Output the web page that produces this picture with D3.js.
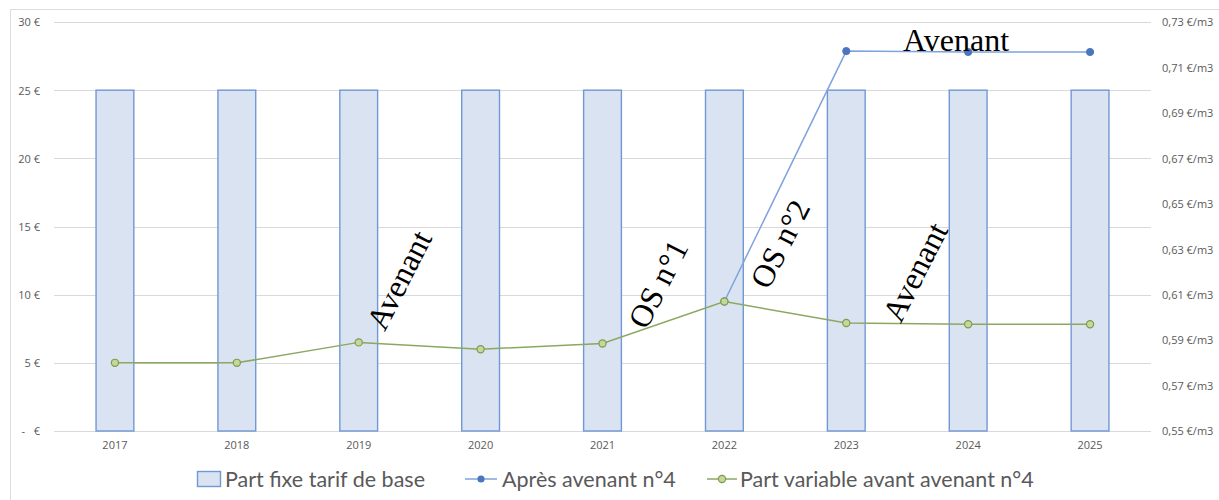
<!DOCTYPE html>
<html lang="fr">
<head>
<meta charset="utf-8">
<script src="https://cdn.jsdelivr.net/npm/d3@7"></script>
<style>
  html, body { margin: 0; padding: 0; background: #fff; }
  svg { display: block; }
  .tick-label { font-family: "Open Sans", "Liberation Sans", sans-serif; font-size: 11px; fill: #595959; }
  .legend-label { font-family: Lato, "Liberation Sans", sans-serif; font-size: 21.5px; fill: #595959; }
  .note { font-family: "Liberation Serif", "Times New Roman", serif; font-size: 32px; fill: #000; }
</style>
</head>
<body>
<svg id="chart" width="1219" height="500"></svg>
<script>
// Années
const years = ["2017", "2018", "2019", "2020", "2021", "2022", "2023", "2024", "2025"];
// Part fixe (€), axe de gauche
const partFixe = [25, 25, 25, 25, 25, 25, 25, 25, 25];
// Part variable avant avenant n°4 (€/m3), axe de droite
const partVariable = [0.580, 0.580, 0.589, 0.586, 0.5885, 0.607, 0.5975, 0.597, 0.597];
// Après avenant n°4 (€/m3), à partir de 2022
const apresAvenant = [null, null, null, null, null, 0.607, 0.7172, 0.7168, 0.7168];
// Graduations
const leftTicks = [0, 5, 10, 15, 20, 25, 30];
const rightTicks = [0.55, 0.57, 0.59, 0.61, 0.63, 0.65, 0.67, 0.69, 0.71, 0.73];
const legendLabels = ["Part fixe tarif de base", "Après avenant n°4", "Part variable avant avenant n°4"];

const svg = d3.select("#chart");

const x = d3.scaleBand().domain(years).range([54, 1151]).padding(0);
const yL = d3.scaleLinear().domain([0, 30]).range([431, 22]);
const yR = d3.scaleLinear().domain([0.55, 0.73]).range([431, 22]);

const blueLine = "#7fa3dd", blueDot = "#4a76c0";
const greenLine = "#8aa862", greenDot = "#7d9b4e", greenFill = "#c4d79c";

// Cadre du graphique
svg.append("path")
  .attr("d", "M10.5,500 V9.5 H1219")
  .attr("fill", "none").attr("stroke", "#dcdcdc").attr("stroke-width", 1);

// Quadrillage
svg.append("g").selectAll("line").data(leftTicks).join("line")
  .attr("x1", 54).attr("x2", 1151)
  .attr("y1", d => Math.round(yL(d)) + 0.5).attr("y2", d => Math.round(yL(d)) + 0.5)
  .attr("stroke", "#d9d9d9").attr("stroke-width", 1);

// Axe de gauche
const fmtEuro = d => d === 0 ? "-   €" : d + " €";
const gLeft = svg.append("g").attr("transform", "translate(54,0)")
  .call(d3.axisLeft(yL).tickValues(leftTicks).tickSize(0).tickPadding(14).tickFormat(fmtEuro));
gLeft.select(".domain").remove();
gLeft.selectAll("text").attr("class", "tick-label").attr("dy", "0.35em").style("white-space", "pre");

// Axe de droite
const fmtM3 = d => d3.format(".2f")(d).replace(".", ",") + " €/m3";
const gRight = svg.append("g").attr("transform", "translate(1151,0)")
  .call(d3.axisRight(yR).tickValues(rightTicks).tickSize(0).tickPadding(11).tickFormat(fmtM3));
gRight.select(".domain").remove();
gRight.selectAll("text").attr("class", "tick-label").attr("dy", "0.35em");

// Axe des années
const gX = svg.append("g").attr("transform", "translate(0,431)")
  .call(d3.axisBottom(x).tickSize(0).tickPadding(10));
gX.select(".domain").remove();
gX.selectAll("text").attr("class", "tick-label").attr("dy", "0.71em");

// Barres : part fixe
const barW = x.bandwidth() * 0.31;
svg.append("g").selectAll("rect").data(years).join("rect")
  .attr("x", (d, i) => x(d) + (x.bandwidth() - barW) / 2)
  .attr("y", (d, i) => yL(partFixe[i]))
  .attr("width", barW)
  .attr("height", (d, i) => yL(0) - yL(partFixe[i]))
  .attr("fill", "#dae3f1").attr("stroke", "#7198d4").attr("stroke-width", 1.4);

const cx = d => x(d) + x.bandwidth() / 2;

// Courbe après avenant n°4
const blueData = years.map((d, i) => ({ year: d, v: apresAvenant[i] })).filter(d => d.v !== null);
svg.append("path").datum(blueData)
  .attr("d", d3.line().x(d => cx(d.year)).y(d => yR(d.v)))
  .attr("fill", "none").attr("stroke", blueLine).attr("stroke-width", 1.5);
svg.append("g").selectAll("circle").data(blueData).join("circle")
  .attr("cx", d => cx(d.year)).attr("cy", d => yR(d.v)).attr("r", 3.6)
  .attr("fill", blueDot).attr("stroke", blueDot);

// Courbe part variable avant avenant n°4
const greenData = years.map((d, i) => ({ year: d, v: partVariable[i] }));
svg.append("path").datum(greenData)
  .attr("d", d3.line().x(d => cx(d.year)).y(d => yR(d.v)))
  .attr("fill", "none").attr("stroke", greenLine).attr("stroke-width", 1.5);
svg.append("g").selectAll("circle").data(greenData).join("circle")
  .attr("cx", d => cx(d.year)).attr("cy", d => yR(d.v)).attr("r", 3.6)
  .attr("fill", greenFill).attr("stroke", greenDot).attr("stroke-width", 1.2);

// Annotations
const notes = [
  { t: "Avenant", px: 399, py: 280, a: -63 },
  { t: "OS n°1", px: 658, py: 284, a: -63 },
  { t: "OS n°2", px: 780, py: 244, a: -63 },
  { t: "Avenant", px: 915, py: 272, a: -63 },
  { t: "Avenant", px: 956, py: 40, a: 0 }
];
svg.append("g").selectAll("text").data(notes).join("text")
  .attr("class", "note")
  .attr("text-anchor", "middle")
  .attr("dominant-baseline", "central")
  .attr("transform", d => `translate(${d.px},${d.py}) rotate(${d.a})`)
  .text(d => d.t);

// Légende
const lg = svg.append("g");
lg.append("rect").attr("x", 197.5).attr("y", 471.5).attr("width", 23).attr("height", 15)
  .attr("fill", "#dae3f1").attr("stroke", "#7198d4").attr("stroke-width", 1.4);
lg.append("text").attr("class", "legend-label").attr("x", 225).attr("y", 479).attr("dy", "0.35em").text(legendLabels[0]);

lg.append("line").attr("x1", 465).attr("x2", 497).attr("y1", 479).attr("y2", 479)
  .attr("stroke", blueLine).attr("stroke-width", 1.5);
lg.append("circle").attr("cx", 481).attr("cy", 479).attr("r", 3.6).attr("fill", blueDot);
lg.append("text").attr("class", "legend-label").attr("x", 502).attr("y", 479).attr("dy", "0.35em").text(legendLabels[1]);

lg.append("line").attr("x1", 707).attr("x2", 737).attr("y1", 479).attr("y2", 479)
  .attr("stroke", greenLine).attr("stroke-width", 1.5);
lg.append("circle").attr("cx", 722).attr("cy", 479).attr("r", 3.6)
  .attr("fill", greenFill).attr("stroke", greenDot).attr("stroke-width", 1.2);
lg.append("text").attr("class", "legend-label").attr("x", 740).attr("y", 479).attr("dy", "0.35em").text(legendLabels[2]);
</script>
</body>
</html>
